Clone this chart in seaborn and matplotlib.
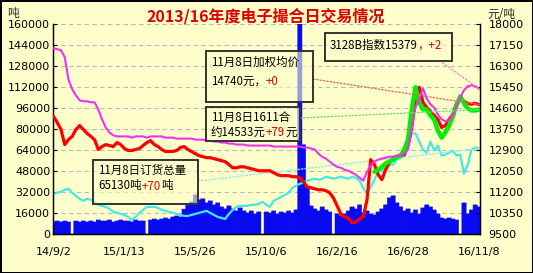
import numpy as np
import pandas as pd
import matplotlib
matplotlib.use("Agg")
import matplotlib.pyplot as plt
import seaborn as sns
from matplotlib.patches import Rectangle

# ---------------- data ----------------
dates = pd.date_range("2014-09-02", "2016-11-08", freq="7D")
tick_dates = ["2014-09-02", "2015-01-13", "2015-05-26", "2015-10-06",
              "2016-02-16", "2016-06-28", "2016-11-08"]
tick_labels = ["14/9/2", "15/1/13", "15/5/26", "15/10/6", "16/2/16", "16/6/28", "16/11/8"]
left_ticks = [0, 16000, 32000, 48000, 64000, 80000, 96000, 112000, 128000, 144000, 160000]
right_ticks = [9500, 10350, 11200, 12050, 12900, 13750, 14600, 15450, 16300, 17150, 18000]

# 3128B index (magenta, right axis, yuan/ton)
index_price = [
    17020, 16980, 16940, 16660, 15760, 15360, 15110, 14910, 14870, 14870,
    14830, 14830, 14540, 14140, 13810, 13610, 13490, 13450, 13450, 13450,
    13450, 13400, 13450, 13450, 13450, 13400, 13450, 13450, 13450, 13450,
    13400, 13400, 13400, 13360, 13360, 13360, 13360, 13360, 13320, 13320,
    13320, 13280, 13280, 13240, 13240, 13200, 13200, 13160, 13160, 13120,
    13120, 13120, 13080, 13080, 13080, 13080, 13080, 13080, 13080, 13040,
    13040, 13040, 13040, 13040, 13040, 13040, 13040, 13000, 13000, 12960,
    12920, 12750, 12630, 12550, 12430, 12310, 12220, 12180, 12100, 12060,
    11980, 11900, 11780, 11660, 12020, 12270, 12430, 12510, 12550, 12590,
    12630, 12630, 12670, 12670, 12750, 12920, 13810, 14620, 14950, 15400,
    14990, 14750, 14620, 14340, 14140, 14060, 14100, 14300, 14670, 15030,
    15320, 15480, 15520, 15480, 15380]

# weighted average price (red, right axis)
weighted_price = [
    14260, 14010, 13730, 13120, 13320, 13450, 13730, 13890, 13730, 13570,
    13450, 13320, 12920, 13040, 13120, 13080, 13040, 13200, 13120, 12960,
    12880, 12880, 12920, 12960, 13080, 13200, 13280, 13120, 13040, 12920,
    12840, 12840, 12840, 12880, 13000, 13040, 12920, 12840, 12750, 12670,
    12630, 12590, 12590, 12550, 12510, 12470, 12430, 12310, 12180, 12180,
    12220, 12220, 12180, 12140, 12100, 12060, 12060, 12060, 12060, 11980,
    11900, 11860, 11860, 11860, 11820, 11820, 11780, 11610, 11410, 11370,
    11330, 11290, 11290, 11250, 11170, 10960, 10640, 10310, 10190, 10150,
    9950, 9990, 10110, 10190, 10880, 12510, 12310, 11900, 11700, 12100,
    12390, 12550, 12630, 12670, 12710, 13080, 13810, 14950, 15440, 14830,
    14620, 14460, 14300, 14140, 13810, 13890, 14140, 14340, 14790, 15030,
    14870, 14790, 14750, 14790, 14740]

# 1611 contract price (green, right axis), listed from spring 2016
c1611_values = [
    12020, 12100, 12220, 12350, 12430, 12510, 12630, 12670, 12920, 13320,
    14540, 15440, 14830, 14540, 14540, 14300, 14140, 13690, 13400, 13610,
    13890, 14260, 14710, 15070, 14790, 14580, 14500, 14500, 14533]
c1611_price = [np.nan] * (len(dates) - len(c1611_values)) + c1611_values

# total orders (cyan, left axis, tons)
order_total = [
    30620, 31390, 32160, 33690, 34450, 31390, 29090, 26800, 25260, 26800,
    26030, 24500, 22200, 21440, 20670, 19140, 16840, 16080, 15310, 14550,
    13020, 10720, 13020, 16080, 18370, 20670, 20670, 20670, 19910, 18370,
    17610, 16840, 16080, 15310, 14550, 13780, 13780, 14550, 15310, 16080,
    16840, 17610, 16080, 14550, 13020, 12250, 11480, 15310, 18370, 20670,
    21440, 21440, 21440, 22200, 22200, 22970, 24500, 22200, 20670, 25260,
    26800, 28330, 29860, 31390, 35220, 36750, 38280, 39050, 40580, 41340,
    42110, 41340, 42110, 43640, 42870, 42110, 42870, 43640, 42870, 42110,
    43640, 42870, 40580, 35220, 30620, 35980, 41340, 47470, 48230, 50530,
    52830, 52830, 56650, 58190, 59720, 65840, 76560, 76560, 70440, 64310,
    62010, 70440, 63540, 67370, 59720, 60480, 62010, 63540, 59720, 60480,
    45940, 52830, 64310, 65840, 65130]

# volume (blue bars, left axis, tons)
volume = [
    9190, 9950, 9190, 9950, 9190, 0, 9950, 9190, 9950, 9190,
    9950, 9190, 10720, 9950, 9950, 10720, 9190, 9950, 10720, 9950,
    9950, 9190, 10720, 9950, 9950, 0, 10720, 11480, 10720, 11480,
    12250, 11480, 13020, 13780, 13020, 19000, 22000, 24500, 29860, 26030,
    26800, 23730, 25260, 22200, 23730, 20670, 19140, 21440, 19140, 17610,
    19910, 17610, 16080, 17610, 15310, 16840, 0, 16840, 16080, 17610,
    15310, 16840, 16080, 17610, 16080, 18370, 160000, 68000, 35000, 21440,
    19140, 17610, 20670, 18370, 16840, 0, 15310, 13780, 15310, 17610,
    20670, 19140, 22200, 16080, 17610, 15310, 14550, 16840, 19140, 22200,
    27560, 29090, 23730, 20670, 17610, 19140, 16080, 18370, 15310, 19910,
    22200, 20670, 18370, 15310, 12250, 11480, 12250, 11480, 10720, 0,
    23730, 15310, 18370, 22200, 20670]

title = "2013/16年度电子撮合日交易情况"
box_weighted = [[("11月8日加权均价", "black")], [("14740元，", "black"), ("+0", "#E00000")]]
box_1611 = [[("11月8日1611合", "black")], [("约14533元", "black"), ("+79", "#E00000"), ("元", "black")]]
box_order = [[("11月8日订货总量", "black")], [("65130吨", "black"), ("+70", "#E00000"), ("吨", "black")]]
box_index = [[("3128B指数15379", "black"), ("，+2", "#E00000")]]

# ---------------- style ----------------
sns.set_style("white")
plt.rcParams["font.family"] = ["DejaVu Sans", "Noto Sans CJK SC"]
CJK = ["Noto Sans CJK SC", "DejaVu Sans"]
BG = "#FFFFCC"
BLUE = "#0A0AF2"

W, H = 533, 273
fig = plt.figure(figsize=(W / 100, H / 100), dpi=100, facecolor=BG)
fig.patch.set_edgecolor("black")
fig.patch.set_linewidth(2)
fig.subplots_adjust(left=53 / W, right=480 / W, bottom=1 - 234 / H, top=1 - 24 / H)
ax = fig.add_subplot(111)
ax.set_facecolor(BG)

day_num = np.asarray((dates - dates[0]).days, dtype=float)
df = pd.DataFrame({"day": day_num, "volume": volume, "order": order_total,
                   "index": index_price, "weighted": weighted_price, "c1611": c1611_price})

# bars: contiguous weekly columns
sns.barplot(data=df, x="day", y="volume", native_scale=True,
            color=BLUE, saturation=1, errorbar=None, ax=ax, zorder=2)
BAR_W = 8.2
for p in ax.patches:
    cx = p.get_x() + p.get_width() / 2
    p.set_width(BAR_W)
    p.set_x(cx - BAR_W / 2)
    p.set_edgecolor(BLUE)
    p.set_linewidth(0.3)
    p.set_snap(False)
sns.lineplot(data=df, x="day", y="order", color="#44E8E8", lw=1.6, ax=ax, zorder=3)

ax.set_ylim(0, 160000)
ax.set_yticks(left_ticks)
ax.set_yticklabels([str(v) for v in left_ticks])
tick_pos = [(pd.Timestamp(d) - dates[0]).days for d in tick_dates]
ax.set_xlim(-1, 800)
ax.set_xticks(tick_pos)
ax.set_xticklabels(tick_labels)
ax.set_xlabel("")
ax.set_ylabel("")
ax.yaxis.grid(True, linestyle=(0, (4, 3)), color="#B8B8B8", lw=0.8)
ax.xaxis.grid(False)
ax.set_axisbelow(True)
ax.tick_params(axis="y", direction="in", length=3, width=0.8, pad=2, labelsize=8, colors="black", left=True)
ax.tick_params(axis="x", length=0, pad=9, labelsize=8, colors="black")

ax2 = ax.twinx()
sns.lineplot(data=df, x="day", y="weighted", color="#FF0000", lw=2.3, ax=ax2, zorder=3)
sns.lineplot(data=df, x="day", y="c1611", color="#00F000", lw=3.2, ax=ax2, zorder=4)
sns.lineplot(data=df, x="day", y="index", color="#F030F0", lw=1.5, ax=ax2, zorder=5)
ax2.set_ylim(9500, 18000)
ax2.set_yticks(right_ticks)
ax2.set_yticklabels([str(v) for v in right_ticks])
ax2.set_ylabel("")
ax2.set_xlim(-1, 800)
ax2.tick_params(axis="y", direction="in", length=3, width=0.8, pad=6, labelsize=8, colors="black", right=True)

for a in (ax, ax2):
    a.spines["top"].set_visible(False)
    for s in ("left", "right", "bottom"):
        a.spines[s].set_color("black")
        a.spines[s].set_linewidth(0.9)

def fx(px):
    return px / W

def fy(py):
    return 1 - py / H

# dotted connectors from the boxes to the latest values
def connect(axis, yval, start, color):
    axis.annotate("", xy=(day_num[-1], yval), xycoords="data",
                  xytext=(fx(start[0]), fy(start[1])), textcoords="figure fraction",
                  arrowprops=dict(arrowstyle="-", linestyle=(0, (1, 1.5)), color=color,
                                  lw=1.0, shrinkA=0, shrinkB=0), zorder=6)

connect(ax2, index_price[-1], (440, 61), "#FF80C8")
connect(ax2, weighted_price[-1], (313, 79), "#E07060")
connect(ax2, c1611_price[-1], (300, 118), "#70E070")
connect(ax, order_total[-1], (198, 181), "#90E8E0")

renderer = fig.canvas.get_renderer()

def rich_box(x0, y0, x1, y1, lines, line_y):
    fig.add_artist(Rectangle((fx(x0), fy(y1)), fx(x1) - fx(x0), fy(y0) - fy(y1),
                             transform=fig.transFigure, facecolor=BG, alpha=0.6,
                             edgecolor="none", zorder=8))
    fig.add_artist(Rectangle((fx(x0), fy(y1)), fx(x1) - fx(x0), fy(y0) - fy(y1),
                             transform=fig.transFigure, facecolor="none",
                             edgecolor="#333333", lw=1.4, zorder=9))
    for parts, ly in zip(lines, line_y):
        x = fx(x0 + 5)
        for s, c in parts:
            t = fig.text(x, fy(ly), s, color=c, fontsize=8.3, family=CJK,
                         va="center", ha="left", zorder=10)
            bb = t.get_window_extent(renderer=renderer)
            x += bb.width / fig.bbox.width

rich_box(206, 51, 313, 102, box_weighted, [62, 81])
rich_box(206, 107, 300, 141, box_1611, [117, 133])
rich_box(93, 160, 198, 204, box_order, [170, 186])
rich_box(325, 33, 452, 61, box_index, [45])

fig.text(fx(266), fy(16), title, color="#E00000", fontsize=11.5, weight="bold",
         family=CJK, ha="center", va="center")
fig.text(fx(13), fy(14), "吨", fontsize=8.5, family=CJK, ha="center", va="center")
fig.text(fx(501), fy(14), "元/吨", fontsize=8.5, family=CJK, ha="center", va="center")

fig.savefig("out.png", dpi=100, facecolor=BG, edgecolor="black")
